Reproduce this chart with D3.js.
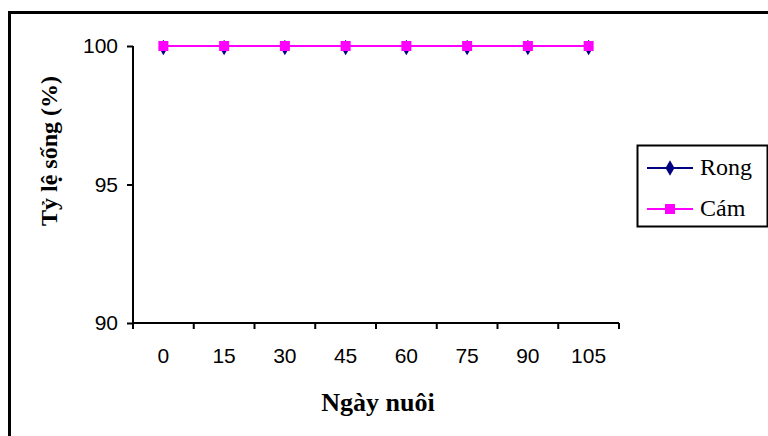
<!DOCTYPE html>
<html>
<head>
<meta charset="utf-8">
<script src="https://cdn.jsdelivr.net/npm/d3@7"></script>
<style>
  html, body { margin: 0; padding: 0; background: #fff; }
  svg { display: block; }
</style>
</head>
<body>
<svg id="chart" width="768" height="436"></svg>
<script>
// Survival rate (%) by rearing day for two feed types
const days = ["0", "15", "30", "45", "60", "75", "90", "105"];
const rongValues = [100, 100, 100, 100, 100, 100, 100, 100];
const camValues = [100, 100, 100, 100, 100, 100, 100, 100];
const yTicks = [90, 95, 100];
const seriesNames = ["Rong", "Cám"];
const seriesColors = ["#000080", "#FF00FF"];

const SANS = "Liberation Sans, Arial, sans-serif";
const SERIF = "Liberation Serif, Times New Roman, serif";

const svg = d3.select("#chart");
const W = 768, H = 436;
const plot = { left: 133, right: 619, top: 46, bottom: 323 };

// Outer frame (extends past the right and bottom edges)
svg.append("rect")
  .attr("x", 9.5).attr("y", 12.5)
  .attr("width", W + 20).attr("height", H + 20)
  .attr("fill", "#fff").attr("stroke", "#000").attr("stroke-width", 3);

const x = d3.scaleBand().domain(days).range([plot.left, plot.right]).padding(0);
const y = d3.scaleLinear().domain([90, 100]).range([plot.bottom, plot.top]);

// Y axis
const yAxis = svg.append("g")
  .attr("transform", `translate(${plot.left},0)`)
  .call(d3.axisLeft(y).tickValues(yTicks).tickSize(6).tickPadding(9).tickFormat(d3.format("d")));
yAxis.select(".domain").attr("stroke", "#000").attr("stroke-width", 2)
  .attr("d", `M0,${plot.top}V${plot.bottom}`);
yAxis.selectAll(".tick line").attr("stroke", "#000").attr("stroke-width", 2);
yAxis.selectAll(".tick text")
  .attr("font-family", SANS)
  .attr("font-size", 21).attr("fill", "#000");

// X axis: ticks at the category boundaries, labels at the centres
const xAxisG = svg.append("g").attr("transform", `translate(0,${plot.bottom})`);
xAxisG.append("line")
  .attr("x1", plot.left).attr("x2", plot.right)
  .attr("stroke", "#000").attr("stroke-width", 2);
const boundaries = days.map(d => x(d)).concat([x(days[days.length - 1]) + x.bandwidth()]);
xAxisG.selectAll("line.tk").data(boundaries).enter().append("line")
  .attr("class", "tk")
  .attr("x1", d => d).attr("x2", d => d)
  .attr("y1", 0).attr("y2", 6)
  .attr("stroke", "#000").attr("stroke-width", 2);
xAxisG.selectAll("text").data(days).enter().append("text")
  .attr("x", d => x(d) + x.bandwidth() / 2)
  .attr("y", 40)
  .attr("text-anchor", "middle")
  .attr("font-family", SANS)
  .attr("font-size", 21).attr("fill", "#000")
  .text(d => d);

// Axis titles
svg.append("text")
  .attr("x", 378).attr("y", 411)
  .attr("text-anchor", "middle")
  .attr("font-family", SERIF)
  .attr("font-weight", "bold").attr("font-size", 26)
  .text("Ngày nuôi");
svg.append("text")
  .attr("transform", "translate(57,151) rotate(-90)")
  .attr("text-anchor", "middle")
  .attr("font-family", SERIF)
  .attr("font-weight", "bold").attr("font-size", 24)
  .text("Tỷ lệ sống (%)");

const cx = d => x(d) + x.bandwidth() / 2;
const line = d3.line().x((v, i) => cx(days[i])).y(v => y(v));
const diamond = d3.symbol().type(d3.symbolDiamond).size(70);

// Rong series (diamonds)
svg.append("path").datum(rongValues)
  .attr("d", line).attr("fill", "none")
  .attr("stroke", seriesColors[0]).attr("stroke-width", 2);
svg.selectAll("path.rong").data(rongValues).enter().append("path")
  .attr("class", "rong")
  .attr("d", diamond)
  .attr("transform", (v, i) => `translate(${cx(days[i])},${y(v) + 1.5})`)
  .attr("fill", seriesColors[0]);

// Cám series (squares)
svg.append("path").datum(camValues)
  .attr("d", line).attr("fill", "none")
  .attr("stroke", seriesColors[1]).attr("stroke-width", 2);
svg.selectAll("rect.cam").data(camValues).enter().append("rect")
  .attr("class", "cam")
  .attr("x", (v, i) => cx(days[i]) - 5)
  .attr("y", v => y(v) - 5)
  .attr("width", 10).attr("height", 10)
  .attr("fill", seriesColors[1]);

// Legend
const lg = svg.append("g");
lg.append("rect")
  .attr("x", 637.5).attr("y", 145.5)
  .attr("width", 130).attr("height", 81)
  .attr("fill", "#fff").attr("stroke", "#000").attr("stroke-width", 2);
const rows = [168, 209];
seriesNames.forEach((name, i) => {
  lg.append("line")
    .attr("x1", 647).attr("x2", 693)
    .attr("y1", rows[i]).attr("y2", rows[i])
    .attr("stroke", seriesColors[i]).attr("stroke-width", 2);
  if (i === 0) {
    lg.append("path").attr("d", diamond)
      .attr("transform", `translate(670,${rows[i]})`)
      .attr("fill", seriesColors[i]);
  } else {
    lg.append("rect")
      .attr("x", 665).attr("y", rows[i] - 5)
      .attr("width", 10).attr("height", 10)
      .attr("fill", seriesColors[i]);
  }
  lg.append("text")
    .attr("x", 700).attr("y", rows[i] + 7)
    .attr("font-family", SERIF)
    .attr("font-size", 24).attr("fill", "#000")
    .text(name);
});
</script>
</body>
</html>
